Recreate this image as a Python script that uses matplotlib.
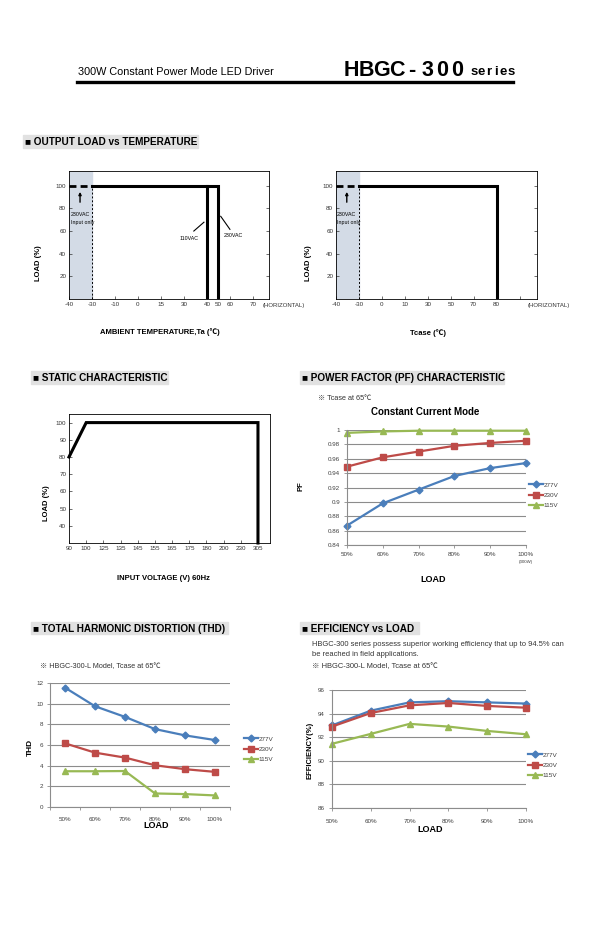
import numpy as np
import matplotlib
matplotlib.use("Agg")
import matplotlib.pyplot as plt
from matplotlib.patches import Rectangle

plt.rcParams['font.family'] = ['Liberation Sans', 'Noto Sans CJK JP', 'DejaVu Sans']

# ---- data ----
# output load vs ambient temperature
amb_ticks = [-40, -30, -10, 0, 15, 30, 40, 50, 60, 70]
amb_pos = [0, 1, 2, 3, 4, 5, 6, 6.5, 7, 8]
amb_230_t = [-30, 50, 50]
amb_230_load = [100, 100, 0]
amb_110_t = [40, 40]
amb_110_load = [100, 0]

# output load vs Tcase
tc_ticks = [-40, -30, 0, 10, 30, 50, 70, 80]
tc_pos = [0, 1, 2, 3, 4, 5, 6, 7]
tc_t = [-30, 80, 80]
tc_load = [100, 100, 0]

# static characteristic
volt_ticks = [90, 100, 125, 135, 145, 155, 165, 175, 180, 200, 230, 305]
static_v = [90, 100, 305, 305]
static_load = [80, 100, 100, 30]

loads = ['50%', '60%', '70%', '80%', '90%', '100%']
series_names = ['277V', '230V', '115V']

pf_277 = [0.867, 0.898, 0.917, 0.936, 0.947, 0.954]
pf_230 = [0.949, 0.962, 0.970, 0.978, 0.982, 0.985]
pf_115 = [0.996, 0.998, 0.999, 0.999, 0.999, 0.999]

thd_277 = [11.55, 9.75, 8.72, 7.54, 6.93, 6.48]
thd_230 = [6.16, 5.26, 4.78, 4.04, 3.66, 3.40]
thd_115 = [3.46, 3.46, 3.48, 1.31, 1.25, 1.12]

eff_277 = [93.0, 94.25, 94.95, 95.05, 94.95, 94.85]
eff_230 = [92.9, 94.05, 94.7, 94.9, 94.65, 94.5]
eff_115 = [91.44, 92.28, 93.13, 92.9, 92.53, 92.25]

colors = ['#4a7ebb', '#be4b48', '#98b954']
markers = ['D', 's', '^']

W, H = 600, 931
fig = plt.figure(figsize=(6, 9.31), dpi=100)


def ax_px(l, t, r, b):
    return fig.add_axes([l / W, 1 - b / H, (r - l) / W, (b - t) / H])


def txt(x, y, s, **kw):
    kw.setdefault('va', 'center')
    return fig.text(x / W, 1 - y / H, s, **kw)


def header(l, t, r, b, s):
    fig.patches.append(Rectangle((l / W, 1 - b / H), (r - l) / W, (b - t) / H,
                                 transform=fig.transFigure, color='#e1e1e1', zorder=0))
    txt(l + 2, (t + b) / 2 + 0.5, '■ ' + s, fontsize=7.2, fontweight='bold')


# ---- page header ----
txt(78, 72, '300W Constant Power Mode LED Driver', fontsize=7.8)
for i, ch in enumerate('HBGC-300'):
    txt(351 + i * 15.2, 70, ch, fontsize=15.5, fontweight='bold', ha='center')
for i, ch in enumerate('series'):
    txt(474 + i * 7.4, 72, ch, fontsize=9.5, fontweight='bold', ha='center')
fig.add_artist(plt.Line2D([77 / W, 513 / W], [1 - 82 / H, 1 - 82 / H], color='black', lw=2.4))

header(23, 135, 198, 148, 'OUTPUT LOAD vs TEMPERATURE')
header(31, 371, 168, 384, 'STATIC CHARACTERISTIC')
header(300, 371, 504, 384, 'POWER FACTOR (PF) CHARACTERISTIC')
header(31, 622, 228, 634, 'TOTAL HARMONIC DISTORTION (THD)')
header(300, 622, 419, 634, 'EFFICIENCY vs LOAD')


def derating_axes(ax, xmax):
    ax.set_ylim(0, 113)
    ax.set_xlim(0, xmax)
    for s in ax.spines.values():
        s.set_linewidth(0.6)
    ax.set_yticks([20, 40, 60, 80, 100])
    ax.tick_params(labelsize=4.5, length=2, width=0.5, direction='in', pad=2,
                   right=True, colors='#333333')
    ax.axvspan(0, 1, color='#d3dbe6', zorder=0)
    ax.plot([1, 1], [0, 100], color='black', lw=0.7, ls=(0, (2, 2)))
    ax.plot([0, 1], [100, 100], color='black', lw=2, ls=(0, (2.5, 1.5)))


# ---- chart 1: ambient temperature ----
ax1 = ax_px(69, 171, 269, 299)
derating_axes(ax1, 8.7)
ax1.set_xticks(amb_pos)
ax1.set_xticklabels([str(v) for v in amb_ticks])
ax1.plot(np.interp(amb_230_t, amb_ticks, amb_pos), amb_230_load, color='black', lw=2.2, solid_joinstyle='miter')
ax1.plot(np.interp(amb_110_t, amb_ticks, amb_pos), amb_110_load, color='black', lw=2.2)
ax1.annotate('', xy=(0.48, 97), xytext=(0.48, 83),
             arrowprops=dict(arrowstyle='-|>', color='black', lw=1, mutation_scale=4))
ax1.text(0.07, 71, '230VAC\nInput only', fontsize=3.8, va='center', linespacing=1.6)
ax1.plot([5.43, 5.87], [60, 67.8], color='black', lw=0.8)
ax1.text(5.22, 53.6, '110VAC', fontsize=3.8, ha='center', va='center')
ax1.plot([6.6, 7.0], [73, 61.5], color='black', lw=0.8)
ax1.text(7.17, 56.3, '230VAC', fontsize=3.8, ha='center', va='center')
txt(263, 305, '(HORIZONTAL)', fontsize=4.3, color='#333333')
txt(39, 263, 'LOAD (%)', fontsize=5.5, fontweight='bold', rotation=90, ha='center')
txt(160, 332, 'AMBIENT TEMPERATURE,Ta (℃)', fontsize=5.5, fontweight='bold', ha='center')

# ---- chart 2: Tcase ----
ax2 = ax_px(336, 171, 537, 299)
derating_axes(ax2, 8.76)
ax2.set_xticks(tc_pos + [8])
ax2.set_xticklabels([str(v) for v in tc_ticks] + [''])
ax2.plot(np.interp(tc_t, tc_ticks, tc_pos), tc_load, color='black', lw=2.2, solid_joinstyle='miter')
ax2.annotate('', xy=(0.47, 97), xytext=(0.47, 83),
             arrowprops=dict(arrowstyle='-|>', color='black', lw=1, mutation_scale=4))
ax2.text(0.05, 71, '230VAC\nInput only', fontsize=3.8, va='center', linespacing=1.6)
txt(528, 305, '(HORIZONTAL)', fontsize=4.3, color='#333333')
txt(308, 263, 'LOAD (%)', fontsize=5.5, fontweight='bold', rotation=90, ha='center')
txt(428, 333, 'Tcase (℃)', fontsize=5.5, fontweight='bold', ha='center')

# ---- chart 3: static characteristic ----
ax3 = ax_px(69, 414, 270, 543)
vpos = np.arange(len(volt_ticks))
ax3.set_xlim(0, 11.7)
ax3.set_ylim(30, 105)
for s in ax3.spines.values():
    s.set_linewidth(0.6)
ax3.set_xticks(vpos)
ax3.set_xticklabels([str(v) for v in volt_ticks])
ax3.set_yticks(range(40, 101, 10))
ax3.tick_params(labelsize=4.5, length=2, width=0.5, direction='in', pad=2, colors='#333333')
ax3.plot(np.interp(static_v, volt_ticks, vpos), static_load, color='black', lw=2.2,
         solid_joinstyle='miter', clip_on=False)
txt(47, 503, 'LOAD (%)', fontsize=5.5, fontweight='bold', rotation=90, ha='center')
txt(163, 578, 'INPUT VOLTAGE (V) 60Hz', fontsize=5.5, fontweight='bold', ha='center')


def excel_axes(ax, ylo, yhi, ystep, xlim, fmt):
    ax.set_ylim(ylo, yhi)
    ax.set_xlim(*xlim)
    yt = np.arange(ylo, yhi + ystep / 2, ystep)
    ax.set_yticks(yt)
    ax.set_yticklabels([fmt(v) for v in yt])
    ax.grid(axis='y', color='#8c8c8c', lw=0.8)
    ax.set_axisbelow(True)
    for k in ('top', 'right'):
        ax.spines[k].set_visible(False)
    for k in ('left', 'bottom'):
        ax.spines[k].set_color('#8c8c8c')
        ax.spines[k].set_linewidth(0.8)
    ax.tick_params(labelsize=4.5, length=2, width=0.6, color='#8c8c8c', labelcolor='#404040', pad=3)


def excel_lines(ax, data, legend_xy):
    for vals, c, m, name in zip(data, colors, markers, series_names):
        ax.plot(range(len(loads)), vals, color=c, lw=1.6, marker=m,
                ms=3.5 if m == 'D' else 4, label=name, clip_on=False)
    ax.legend(loc='upper left', bbox_to_anchor=(legend_xy[0] / W, 1 - legend_xy[1] / H),
              bbox_transform=fig.transFigure, frameon=False, fontsize=4.6,
              handlelength=2.2, handletextpad=0.1, labelspacing=0.75, borderpad=0,
              labelcolor='#404040')


# ---- chart 4: power factor ----
ax4 = ax_px(347, 430, 526, 545)
excel_axes(ax4, 0.84, 1.0, 0.02, (0, 5), lambda v: f'{v:g}')
ax4.set_xticks(range(len(loads)))
ax4.set_xticklabels(loads)
excel_lines(ax4, [pf_277, pf_230, pf_115], (526, 479))
txt(526, 562, '(300W)', fontsize=3.2, ha='center', color='#404040')
txt(318, 398, '※ Tcase at 65℃', fontsize=5.2, color='#333333')
txt(425, 412, 'Constant Current Mode', fontsize=7, fontweight='bold', ha='center')
txt(301, 486, 'PF', fontsize=5.5, fontweight='bold', rotation=90, ha='center')
txt(433, 579, 'LOAD', fontsize=6.5, fontweight='bold', ha='center')

# ---- chart 5: THD ----
ax5 = ax_px(50, 683, 230, 807)
excel_axes(ax5, 0, 12, 2, (-0.5, 5.5), lambda v: f'{v:g}')
ax5.set_xticks(range(len(loads)))
ax5.set_xticklabels(loads)
ax5.set_xticks(np.arange(-0.5, 6, 1), minor=True)
ax5.tick_params(axis='x', which='major', length=0, pad=7)
ax5.tick_params(axis='x', which='minor', length=2, width=0.6, color='#8c8c8c')
excel_lines(ax5, [thd_277, thd_230, thd_115], (241, 733))
txt(40, 667, '※ HBGC-300-L Model, Tcase at 65℃', fontsize=5.2, color='#333333')
txt(30, 747, 'THD', fontsize=6, fontweight='bold', rotation=90, ha='center')
txt(156, 826, 'LOAD', fontsize=6.5, fontweight='bold', ha='center')

# ---- chart 6: efficiency ----
ax6 = ax_px(332, 690, 526, 808)
excel_axes(ax6, 86, 96, 2, (0, 5), lambda v: f'{v:g}')
ax6.set_xticks(range(len(loads)))
ax6.set_xticklabels(loads)
ax6.tick_params(axis='x', pad=6)
excel_lines(ax6, [eff_277, eff_230, eff_115], (525, 749))
txt(312, 644, 'HBGC-300 series possess superior working efficiency that up to 94.5% can',
    fontsize=5.4, color='#333333')
txt(312, 655, 'be reached in field applications.', fontsize=5.4, color='#333333')
txt(312, 667, '※ HBGC-300-L Model, Tcase at 65℃', fontsize=5.4, color='#333333')
txt(310, 750, 'EFFICIENCY(%)', fontsize=5.5, fontweight='bold', rotation=90, ha='center')
txt(430, 830, 'LOAD', fontsize=6.5, fontweight='bold', ha='center')

fig.savefig('out.png', dpi=100)
